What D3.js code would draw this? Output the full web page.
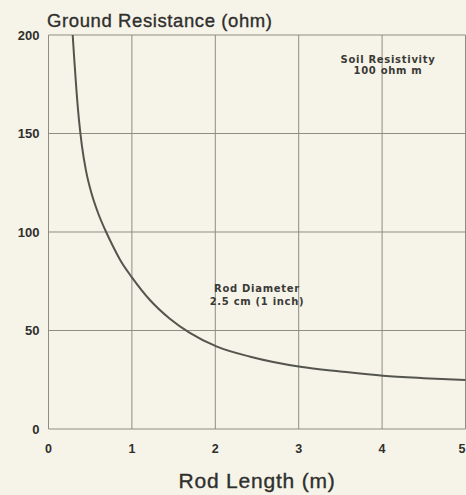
<!DOCTYPE html>
<html>
<head>
<meta charset="utf-8">
<script src="https://cdn.jsdelivr.net/npm/d3@7"></script>
<style>
  html, body { margin: 0; padding: 0; background: #f6f4e9; }
  svg { display: block; font-family: "Liberation Sans", Arial, sans-serif; }
</style>
</head>
<body>
<div id="chart"></div>
<script>
// données
let rodLength = [0.29, 0.31, 0.335, 0.365, 0.40, 0.45, 0.52, 0.60, 0.68, 0.77, 0.87, 1.0, 1.216, 1.455, 1.695, 2.02, 2.42, 3.02, 3.5, 4.01, 4.5, 5.0];
let resistance = [200, 187, 172, 157, 144, 131, 119, 109, 101, 93, 85, 77, 65.5, 56, 48.8, 41.8, 36.7, 31.6, 29.2, 27, 25.8, 24.9];
let xTicks = [0, 1, 2, 3, 4, 5];
let yTicks = [0, 50, 100, 150, 200];

let width = 466, height = 495;
let margin = { top: 35, right: 0.5, bottom: 66, left: 48.5 };

let svg = d3.select("#chart").append("svg")
  .attr("width", width)
  .attr("height", height);

let x = d3.scaleLinear().domain([0, 5]).range([margin.left, width - margin.right]);
let y = d3.scaleLinear().domain([0, 200]).range([height - margin.bottom, margin.top]);

let gridColor = "#8d8d84";
let textColor = "#2f2f2c";

// grille
svg.append("g")
  .selectAll("line")
  .data(xTicks)
  .enter()
  .append("line")
  .attr("x1", d => x(d)).attr("x2", d => x(d))
  .attr("y1", y(0)).attr("y2", y(200))
  .attr("stroke", gridColor)
  .attr("stroke-width", 1);

svg.append("g")
  .selectAll("line")
  .data(yTicks)
  .enter()
  .append("line")
  .attr("x1", x(0)).attr("x2", x(5))
  .attr("y1", d => y(d)).attr("y2", d => y(d))
  .attr("stroke", gridColor)
  .attr("stroke-width", 1);

// étiquettes des axes
svg.append("g")
  .selectAll("text")
  .data(yTicks)
  .enter()
  .append("text")
  .attr("x", x(0) - 9)
  .attr("y", d => y(d) + 4.5)
  .attr("text-anchor", "end")
  .attr("font-size", "13px")
  .attr("font-weight", "bold")
  .attr("fill", textColor)
  .text(d => d);

// le "5" est collé au bord droit, on l'aligne à droite pour qu'il reste visible
svg.append("g")
  .selectAll("text")
  .data(xTicks)
  .enter()
  .append("text")
  .attr("x", d => x(d))
  .attr("y", y(0) + 24)
  .attr("text-anchor", d => d === 5 ? "end" : "middle")
  .attr("font-size", "12.5px")
  .attr("font-weight", "bold")
  .attr("fill", textColor)
  .text(d => d);

// courbe
let points = rodLength.map((l, i) => [l, resistance[i]]);
svg.append("path")
  .datum(points)
  .attr("fill", "none")
  .attr("stroke", "#55554f")
  .attr("stroke-width", 2)
  .attr("d", d3.line()
    .x(d => x(d[0]))
    .y(d => y(d[1]))
    .curve(d3.curveMonotoneX));

// titres
svg.append("text")
  .attr("x", 47)
  .attr("y", 27)
  .attr("font-size", "18.5px")
  .attr("letter-spacing", "0.6px")
  .attr("fill", textColor)
  .attr("stroke", textColor)
  .attr("stroke-width", 0.35)
  .text("Ground Resistance (ohm)");

svg.append("text")
  .attr("x", (x(0) + x(5)) / 2)
  .attr("y", 488)
  .attr("text-anchor", "middle")
  .attr("font-size", "21px")
  .attr("letter-spacing", "0.8px")
  .attr("fill", textColor)
  .attr("stroke", textColor)
  .attr("stroke-width", 0.35)
  .text("Rod Length (m)");

// annotations
let notes = [
  { lines: ["Soil Resistivity", "100 ohm m"], cx: 388, y0: 63, step: 11 },
  { lines: ["Rod Diameter", "2.5 cm (1 inch)"], cx: 257, y0: 292, step: 12.5 }
];
notes.forEach(function(n) {
  n.lines.forEach(function(t, i) {
    svg.append("text")
      .attr("x", n.cx)
      .attr("y", n.y0 + i * n.step)
      .attr("text-anchor", "middle")
      .attr("font-family", "'DejaVu Sans', sans-serif")
      .attr("font-size", "10px")
      .attr("font-weight", "bold")
      .attr("letter-spacing", "0.7px")
      .attr("fill", "#3a3a36")
      .text(t);
  });
});
</script>
</body>
</html>
